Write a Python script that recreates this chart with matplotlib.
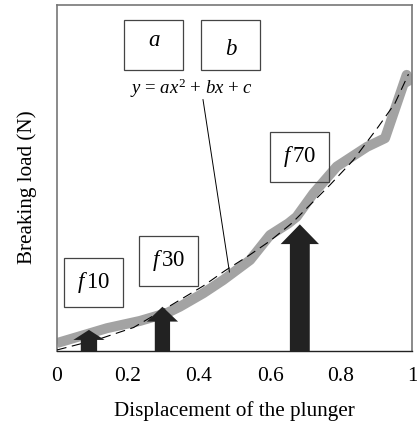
import numpy as np
import matplotlib
matplotlib.use("Agg")
import matplotlib.pyplot as plt
from matplotlib.patches import Rectangle, Polygon

plt.rcParams['font.family'] = ['Liberation Serif', 'DejaVu Serif']
plt.rcParams['mathtext.fontset'] = 'custom'
plt.rcParams['mathtext.rm'] = 'Liberation Serif'
plt.rcParams['mathtext.it'] = 'Liberation Serif:italic'
plt.rcParams['lines.scale_dashes'] = False

# measured curve (gray band)
meas_x = [0.0, 0.056, 0.141, 0.234, 0.31, 0.346, 0.412, 0.468, 0.544, 0.60,
          0.652, 0.675, 0.722, 0.788, 0.873, 0.924, 0.985, 1.0]
meas_y = [0.023, 0.040, 0.066, 0.087, 0.110, 0.128, 0.167, 0.205, 0.263, 0.335,
          0.369, 0.388, 0.455, 0.533, 0.590, 0.615, 0.798, 0.77]

# fitted quadratic (dashed)
fit_x = [0.0, 0.12, 0.216, 0.329, 0.412, 0.473, 0.539, 0.60, 0.661, 0.769,
         0.835, 0.905, 0.952, 0.99]
fit_y = [0.003, 0.035, 0.068, 0.137, 0.188, 0.232, 0.275, 0.318, 0.369, 0.480,
         0.552, 0.648, 0.716, 0.800]

# arrows: x position, tip height, head base height, shaft width, head width
arrow_x = [0.09, 0.297, 0.684]
arrow_tip = [0.061, 0.128, 0.366]
arrow_headbase = [0.032, 0.085, 0.309]
arrow_shaft = [0.046, 0.043, 0.056]
arrow_head = [0.088, 0.088, 0.108]

# label boxes (axes fraction: x0, y0) and texts
box_text = [r'$a$', r'$b$', r'$f\,$70', r'$f\,$30', r'$f\,$10']
box_dy = [0.012, -0.012, 0.0, 0.0, 0.0]
box_x0 = [0.190, 0.407, 0.601, 0.231, 0.020]
box_y0 = [0.812, 0.812, 0.489, 0.189, 0.126]
box_w = 0.166
box_h = 0.144

fig = plt.figure(figsize=(4.17, 4.23), dpi=100)
ax = fig.add_axes([57/417, (423-351)/423, 355/417, 346/423])

ax.plot(meas_x, meas_y, color='#a3a3a3', lw=7.2, solid_capstyle='butt',
        solid_joinstyle='round', zorder=2)
ax.plot(fit_x, fit_y, color='black', lw=0.8, dashes=(7, 4), zorder=3)

for x, tip, hb, sw, hw in zip(arrow_x, arrow_tip, arrow_headbase, arrow_shaft, arrow_head):
    pts = [(x - sw/2, 0), (x - sw/2, hb), (x - hw/2, hb), (x, tip),
           (x + hw/2, hb), (x + sw/2, hb), (x + sw/2, 0)]
    ax.add_patch(Polygon(pts, closed=True, facecolor='#222222', edgecolor='none', zorder=4))

for t, x0, y0, dy in zip(box_text, box_x0, box_y0, box_dy):
    ax.add_patch(Rectangle((x0, y0), box_w, box_h, transform=ax.transAxes,
                           fill=False, edgecolor='#444444', lw=0.9, zorder=5))
    ax.text(x0 + box_w/2, y0 + box_h/2 + dy, t, transform=ax.transAxes,
            ha='center', va='center', fontsize=16.5, zorder=6)

ax.text(0.38, 0.76, r'$y$ = $ax^2$ + $bx$ + $c$', transform=ax.transAxes,
        ha='center', va='center', fontsize=13.5)
ax.annotate('', xy=(0.487, 0.22), xytext=(0.41, 0.735), textcoords='axes fraction',
            xycoords='data',
            arrowprops=dict(arrowstyle='-', color='black', lw=0.7))

ax.set_xlim(0, 1)
ax.set_ylim(0, 1)
ax.set_xticks([0, 0.2, 0.4, 0.6, 0.8, 1.0])
ax.set_xticklabels(['0', '0.2', '0.4', '0.6', '0.8', '1'])
ax.set_yticks([])
ax.tick_params(axis='x', length=0, pad=11.5, labelsize=15.5)
for s in ['left', 'top', 'right']:
    ax.spines[s].set_color('#777777')
    ax.spines[s].set_linewidth(1.2)
ax.spines['bottom'].set_color('#222222')
ax.spines['bottom'].set_linewidth(1.0)

ax.set_xlabel('Displacement of the plunger', fontsize=15.2)
ax.xaxis.set_label_coords(0.5, -(411 - 351) / 346)
ax.xaxis.label.set_va('center')
ax.set_ylabel('Breaking load (N)', fontsize=15.2)
ax.yaxis.set_label_coords(-30 / 355, 0.474)
ax.yaxis.label.set_va('center')

fig.savefig('out.png', dpi=100)
